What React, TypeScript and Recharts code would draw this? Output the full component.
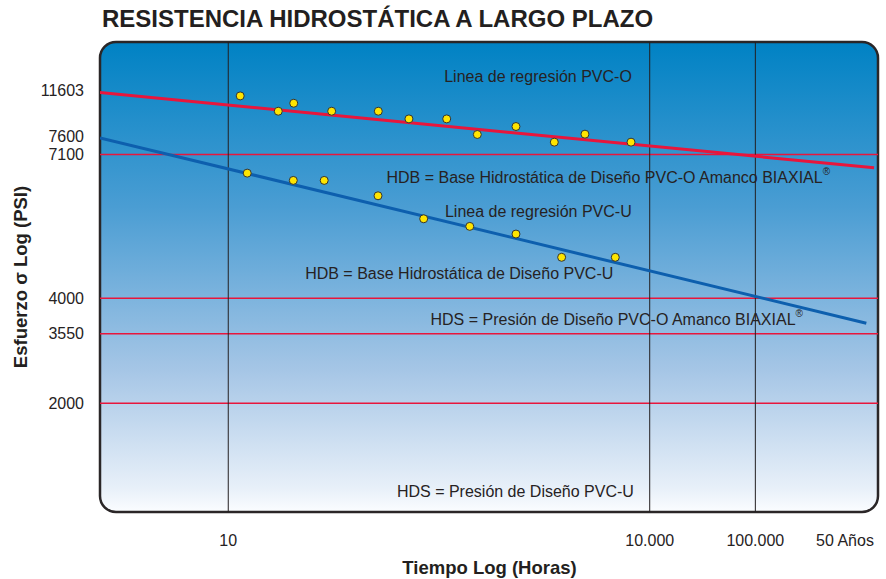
import React from "react";
import {
  ComposedChart,
  XAxis,
  YAxis,
  Line,
  Scatter,
  ReferenceLine,
  ReferenceArea,
  ReferenceDot,
} from "recharts";

// Schematic log-time positions (10 h = 1, 10.000 h = 4) and schematic stress positions (0..100)
const xDomain: [number, number] = [0.087, 5.625];
const yDomain: [number, number] = [0, 100];

const xTickPositions = [1, 4, 4.752, 5.39];
const xTickLabels = ["10", "10.000", "100.000", "50 Años"];
const xGridPositions = [1, 4, 4.752];

const yTickPositions = [89.59, 79.81, 76.07, 45.47, 37.95, 23.16];
const yTickLabels = ["11603", "7600", "7100", "4000", "3550", "2000"];
const yRedLinePositions = [76.07, 45.47, 37.95, 23.16];

const pvcoPointsX = [1.085, 1.356, 1.466, 1.736, 2.068, 2.286, 2.555, 2.773, 3.048, 3.321, 3.539, 3.867];
const pvcoPointsY = [88.53, 85.27, 86.97, 85.27, 85.27, 83.64, 83.64, 80.32, 82.02, 78.69, 80.39, 78.69];

const pvcuPointsX = [1.135, 1.463, 1.683, 2.066, 2.391, 2.719, 3.048, 3.373, 3.755];
const pvcuPointsY = [72.1, 70.55, 70.55, 67.28, 62.39, 60.77, 59.14, 54.19, 54.19];

const pvcoRegX = [0.087, 5.597];
const pvcoRegY = [89.25, 73.23];
const pvcuRegX = [0.087, 5.542];
const pvcuRegY = [79.6, 40.16];

const annotationTexts = [
  "Linea de regresión PVC-O",
  "HDB = Base Hidrostática de Diseño PVC-O Amanco BIAXIAL®",
  "Linea de regresión PVC-U",
  "HDB = Base Hidrostática de Diseño PVC-U",
  "HDS = Presión de Diseño PVC-O Amanco BIAXIAL®",
  "HDS = Presión de Diseño PVC-U",
];
const annotationX = [3.205, 3.705, 3.207, 2.644, 3.765, 3.044];
const annotationY = [92.71, 71.25, 63.88, 50.64, 41.03, 4.31];

const zip = (xs: number[], ys: number[]) => xs.map((x, i) => ({ x, y: ys[i] }));

const pvcoPoints = zip(pvcoPointsX, pvcoPointsY);
const pvcuPoints = zip(pvcuPointsX, pvcuPointsY);
const pvcoReg = zip(pvcoRegX, pvcoRegY);
const pvcuReg = zip(pvcuRegX, pvcuRegY);

const FONT = "'Liberation Sans', Arial, Helvetica, sans-serif";
const TEXT = "#262223";
const RED = "#e8163c";
const BLUE = "#0d5fae";

const XTick = (props: any) => {
  const { x, index } = props;
  return (
    <text x={x} y={540} textAnchor="middle" dominantBaseline="central" fontFamily={FONT} fontSize={16} fill={TEXT}>
      {xTickLabels[index]}
    </text>
  );
};

const YTick = (props: any) => {
  const { y, index } = props;
  return (
    <text x={84} y={y} textAnchor="end" dominantBaseline="central" fontFamily={FONT} fontSize={16} fill={TEXT}>
      {yTickLabels[index]}
    </text>
  );
};

const BgShape = (props: any) => {
  const { x, y, width, height } = props;
  return <rect x={x} y={y} width={width} height={height} rx={16} ry={16} fill="url(#bgGrad)" />;
};

const FrameShape = (props: any) => {
  const { x, y, width, height } = props;
  return (
    <rect x={x} y={y} width={width} height={height} rx={16} ry={16} fill="none" stroke="#2a2627" strokeWidth={2.5} />
  );
};

const Dot = (props: any) => {
  const { cx, cy } = props;
  return <circle cx={cx} cy={cy} r={4} fill="#ffe500" stroke="#333" strokeWidth={1} />;
};

const makeAnnotation = (text: string) => (props: any) => {
  const vb = props.viewBox || {};
  const cx = (vb.x || 0) + (vb.width || 0) / 2;
  const cy = (vb.y || 0) + (vb.height || 0) / 2;
  const hasReg = text.endsWith("®");
  const main = hasReg ? text.slice(0, -1) : text;
  return (
    <text x={cx} y={cy} textAnchor="middle" dominantBaseline="central" fontFamily={FONT} fontSize={16} fill={TEXT}>
      {main}
      {hasReg ? (
        <tspan fontSize={10} dy={-6}>
          ®
        </tspan>
      ) : null}
    </text>
  );
};

export default function App() {
  return (
    <div style={{ position: "absolute", left: 0, top: 0 }}>
      <ComposedChart width={886} height={579} margin={{ top: 42, right: 8, bottom: 0, left: 0 }}>
        <defs>
          <linearGradient id="bgGrad" x1="0" y1="0" x2="0" y2="1">
            <stop offset="0%" stopColor="#0082c4" />
            <stop offset="35%" stopColor="#4a9dd3" />
            <stop offset="70%" stopColor="#a6c6e6" />
            <stop offset="95%" stopColor="#e8f0f9" />
            <stop offset="100%" stopColor="#fbfdff" />
          </linearGradient>
        </defs>
        <XAxis
          type="number"
          dataKey="x"
          domain={xDomain}
          ticks={xTickPositions}
          tick={<XTick />}
          axisLine={false}
          tickLine={false}
          height={67}
          allowDataOverflow
          interval={0}
        />
        <YAxis
          type="number"
          dataKey="y"
          domain={yDomain}
          ticks={yTickPositions}
          tick={<YTick />}
          axisLine={false}
          tickLine={false}
          width={100}
          allowDataOverflow
          interval={0}
        />
        <ReferenceArea
          x1={xDomain[0]}
          x2={xDomain[1]}
          y1={yDomain[0]}
          y2={yDomain[1]}
          shape={<BgShape />}
          ifOverflow="visible"
        />
        {yRedLinePositions.map((v) => (
          <ReferenceLine key={"h" + v} y={v} stroke={RED} strokeWidth={1.5} />
        ))}
        {xGridPositions.map((v) => (
          <ReferenceLine key={"v" + v} x={v} stroke="#231f20" strokeWidth={1} />
        ))}
        <Line
          data={pvcoReg}
          dataKey="y"
          type="linear"
          stroke={RED}
          strokeWidth={3}
          dot={false}
          activeDot={false}
          isAnimationActive={false}
        />
        <Line
          data={pvcuReg}
          dataKey="y"
          type="linear"
          stroke={BLUE}
          strokeWidth={3}
          dot={false}
          activeDot={false}
          isAnimationActive={false}
        />
        <Scatter data={pvcoPoints} dataKey="y" shape={<Dot />} isAnimationActive={false} />
        <Scatter data={pvcuPoints} dataKey="y" shape={<Dot />} isAnimationActive={false} />
        {annotationTexts.map((t, i) => (
          <ReferenceDot
            key={"a" + i}
            x={annotationX[i]}
            y={annotationY[i]}
            r={0}
            fill="none"
            stroke="none"
            label={{ content: makeAnnotation(t), position: "center" }}
          />
        ))}
        <ReferenceArea
          x1={xDomain[0]}
          x2={xDomain[1]}
          y1={yDomain[0]}
          y2={yDomain[1]}
          shape={<FrameShape />}
          ifOverflow="visible"
        />
        <text x={102} y={27} fontFamily={FONT} fontSize={24} fontWeight="bold" fill="#231f20">
          RESISTENCIA HIDROSTÁTICA A LARGO PLAZO
        </text>
        <text
          x={20}
          y={277}
          transform="rotate(-90 20 277)"
          textAnchor="middle"
          dominantBaseline="central"
          fontFamily={FONT}
          fontSize={18.5}
          fontWeight="bold"
          fill="#231f20"
        >
          Esfuerzo σ Log (PSI)
        </text>
        <text
          x={489.5}
          y={567}
          textAnchor="middle"
          dominantBaseline="central"
          fontFamily={FONT}
          fontSize={18.5}
          fontWeight="bold"
          fill="#231f20"
        >
          Tiempo Log (Horas)
        </text>
      </ComposedChart>
    </div>
  );
}
